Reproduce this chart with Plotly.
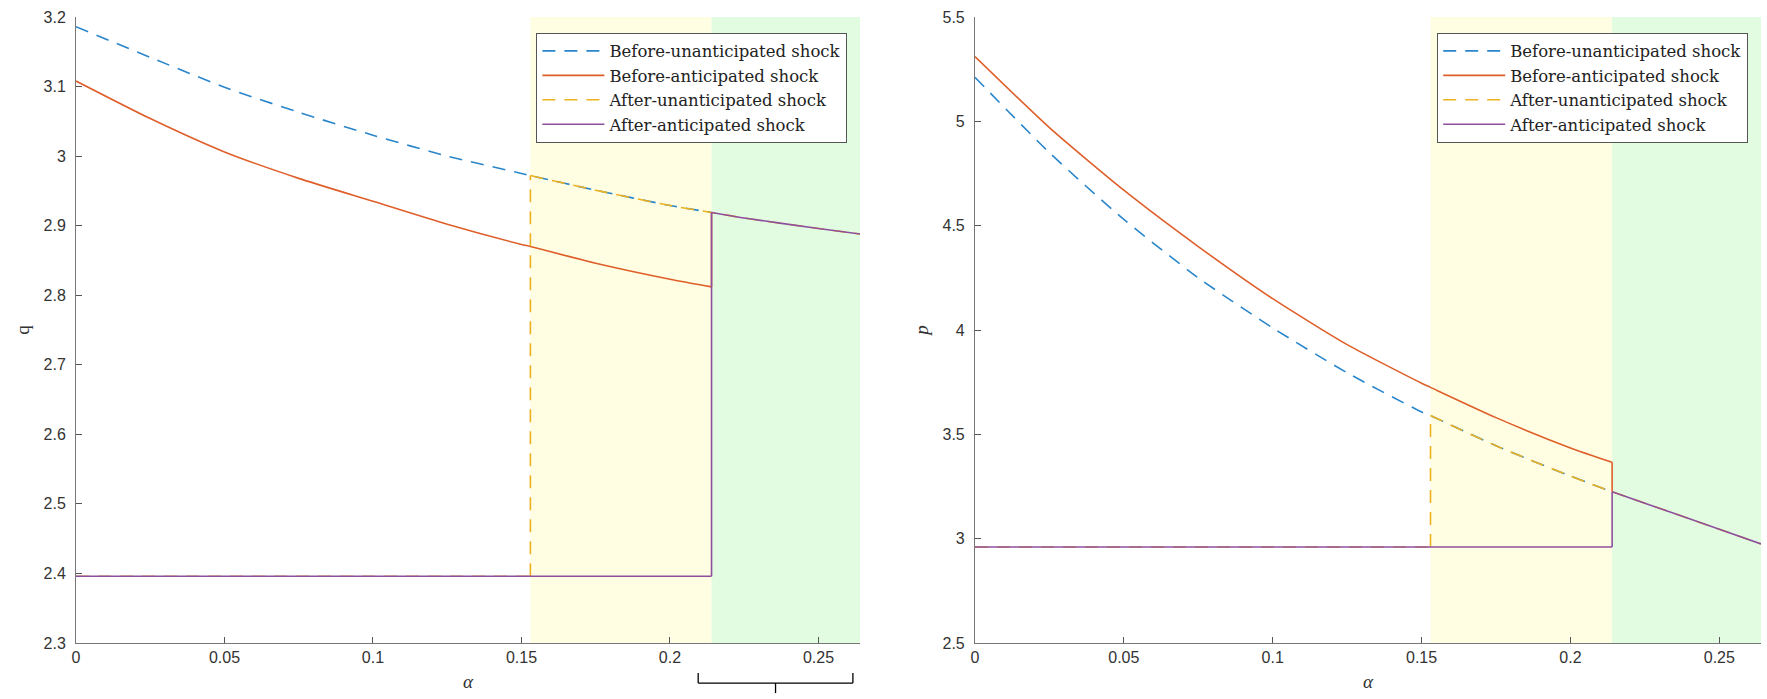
import plotly.graph_objects as go

# ---------------- data ----------------
alpha = [0, 0.025, 0.05, 0.075, 0.1, 0.125, 0.15, 0.153, 0.175, 0.2, 0.214, 0.225, 0.25, 0.264]
alpha_u = 0.153   # unanticipated-shock threshold (yellow band start)
alpha_a = 0.214   # anticipated-shock threshold (green band start)
alpha_max = 0.264

# left panel: q
q_curve = [3.186, 3.142, 3.099, 3.063, 3.030, 3.000, 2.975, 2.972, 2.951, 2.929, 2.919, 2.911, 2.896, 2.888]
q_before_ant = [3.108, 3.054, 3.006, 2.968, 2.935, 2.902, 2.873, 2.870, 2.846, 2.823, 2.812]
q_low = 2.396

# right panel: p
p_curve = [5.211, 4.85, 4.53, 4.25, 4.01, 3.795, 3.607, 3.59, 3.445, 3.30, 3.225, 3.17, 3.045, 2.975]
p_before_ant = [5.31, 4.97, 4.67, 4.40, 4.15, 3.93, 3.745, 3.725, 3.58, 3.435, 3.366]
p_low = 2.96

series_names = ["Before-unanticipated shock", "Before-anticipated shock",
                "After-unanticipated shock", "After-anticipated shock"]
colors = ["#2A86CB", "#DF5F2A", "#EDB120", "#8E4F9E"]
dashes = ["13px,9px", "solid", "13px,9px", "solid"]

x_ticks = [0, 0.05, 0.1, 0.15, 0.2, 0.25]
q_ticks = [2.3, 2.4, 2.5, 2.6, 2.7, 2.8, 2.9, 3.0, 3.1, 3.2]
p_ticks = [2.5, 3, 3.5, 4, 4.5, 5, 5.5]

# ---------------- build ----------------
iu = alpha.index(alpha_u)
ia = alpha.index(alpha_a)

fig = go.Figure()

def add_panel(curve, before_ant, low, xa, ya, legend):
    # segments are separated by None so that spline smoothing stays per segment
    series = [
        (alpha[:ia + 1], curve[:ia + 1]),
        (alpha[:ia + 1] + [None, alpha_a, alpha_a],
         before_ant + [None, before_ant[-1], curve[ia]]),
        ([alpha[0], alpha_u, None, alpha_u, alpha_u, None] + alpha[iu:],
         [low, low, None, low, curve[iu], None] + curve[iu:]),
        ([alpha[0], alpha_a, None, alpha_a, alpha_a, None] + alpha[ia:],
         [low, low, None, low, curve[ia], None] + curve[ia:]),
    ]
    for k, (xs, ys) in enumerate(series):
        fig.add_trace(go.Scatter(
            x=xs, y=ys, mode="lines", name=series_names[k], connectgaps=False,
            line=dict(color=colors[k], width=1.6, dash=dashes[k],
                      shape="spline", smoothing=0.6),
            xaxis=xa, yaxis=ya, legend=legend, legendgroup=legend + str(k),
        ))

add_panel(q_curve, q_before_ant, q_low, "x", "y", "legend")
add_panel(p_curve, p_before_ant, p_low, "x2", "y2", "legend2")

# shaded regions
for xa, ya in (("x", "y"), ("x2", "y2")):
    fig.add_shape(type="rect", xref=xa, yref=ya + " domain", x0=alpha_u, x1=alpha_a,
                  y0=0, y1=1, fillcolor="#FFFEE2", line_width=0, layer="below")
    fig.add_shape(type="rect", xref=xa, yref=ya + " domain", x0=alpha_a, x1=alpha_max,
                  y0=0, y1=1, fillcolor="#E1FCE1", line_width=0, layer="below")

# bracket under the left panel
br_x0, br_x1 = 0.2095, 0.2616
br_mid = (br_x0 + br_x1) / 2
br_top, br_line, br_bot = -0.048, -0.064, -0.080
for (a, b, c, d) in [(br_x0, br_top, br_x0, br_line), (br_x0, br_line, br_x1, br_line),
                     (br_x1, br_line, br_x1, br_top), (br_mid, br_line, br_mid, br_bot)]:
    fig.add_shape(type="line", xref="x", yref="paper", x0=a, y0=b, x1=c, y1=d,
                  line=dict(color="black", width=1.3))

tick_font = dict(family="Liberation Sans, Arial, sans-serif", size=16, color="#333333")
serif = "Liberation Serif, DejaVu Serif, serif"

xcommon = dict(range=[0, alpha_max], tickvals=x_ticks, ticks="inside", ticklen=6,
               tickcolor="#555555", showline=True, linecolor="#777777", linewidth=1,
               showgrid=False, zeroline=False, tickfont=tick_font,
               title=dict(text="<i>α</i>", font=dict(family=serif, size=19, color="#333333"),
                          standoff=9))
ycommon = dict(ticks="inside", ticklen=6, tickcolor="#555555", showline=True,
               linecolor="#777777", linewidth=1, showgrid=False, zeroline=False,
               tickfont=tick_font, ticklabelstandoff=6)
legend_common = dict(y=0.975, xanchor="right", yanchor="top",
                     bgcolor="white", bordercolor="#555555", borderwidth=1,
                     font=dict(family="DejaVu Serif, Liberation Serif, serif", size=16.5,
                               color="#222222"),
                     tracegroupgap=0, traceorder="normal", itemwidth=62)

fig.update_layout(
    width=1767, height=699,
    margin=dict(l=76, r=6, t=17, b=56),
    plot_bgcolor="white", paper_bgcolor="white",
    xaxis=dict(domain=[0, 0.4653], anchor="y", **xcommon),
    xaxis2=dict(domain=[0.5335, 1], anchor="y2", **xcommon),
    yaxis=dict(range=[2.3, 3.2], tickvals=q_ticks,
               title=dict(text="q", font=dict(family=serif, size=19, color="#333333"),
                          standoff=8), **ycommon),
    yaxis2=dict(range=[2.5, 5.5], tickvals=p_ticks, anchor="x2",
                title=dict(text="<i>p</i>", font=dict(family=serif, size=19, color="#333333"),
                           standoff=8), **ycommon),
    legend=dict(x=0.4578, **legend_common),
    legend2=dict(x=0.9924, **legend_common),
    showlegend=True,
)

fig.write_html("out.html")
